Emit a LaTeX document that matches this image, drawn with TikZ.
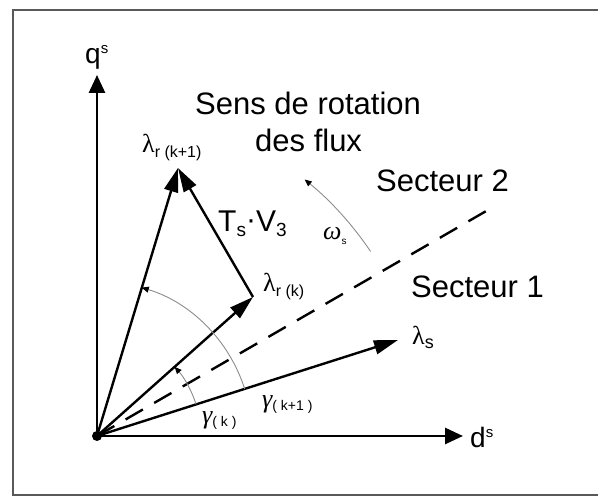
\documentclass[tikz,border=0pt]{standalone}
\usepackage{fontspec}
\setmainfont{Liberation Sans}
\newfontfamily\greekfont{Liberation Serif}
\usetikzlibrary{arrows.meta}
\begin{document}
\begin{tikzpicture}[x=1pt,y=1pt,
  frame/.style={draw=black!65, line width=2pt},
  axis/.style={line width=2.8pt,-{Triangle[length=18pt,width=16pt]}},
  vec/.style={line width=2.4pt,-{Triangle[length=24pt,width=14pt]}},
  dashline/.style={line width=2.4pt, dash pattern=on 20pt off 13pt},
  thinarc/.style={draw=black!45, line width=0.9pt,-{Triangle[length=7pt,width=6pt,black]}},
  big/.style={font=\fontsize{31}{37}\selectfont, inner sep=0pt, anchor=base west},
  axlbl/.style={font=\fontsize{28}{32}\selectfont, inner sep=0pt, anchor=base west},
  veclbl/.style={inner sep=0pt, anchor=base west}
]
\useasboundingbox (0,0) rectangle (598,497);
% frame
\draw[frame] (598,487) -- (13,487) -- (13,2) -- (598,2);

% points
\coordinate (O) at (97,61);
\coordinate (qtip) at (97,422);
\coordinate (dtip) at (463,61);
\coordinate (Lk1) at (178,329);
\coordinate (Lk) at (253,200);
\coordinate (Ls) at (398,157);
\coordinate (Dend) at (488,287);

% axes
\draw[axis] (O) -- (qtip);
\draw[axis] (O) -- (dtip);
% sector boundary
\draw[dashline] (O) -- (Dend);
% vectors
\draw[vec] (O) -- (Ls);
\draw[vec] (O) -- (Lk);
\draw[vec] (O) -- (Lk1);
\draw[vec] (Lk) -- (Lk1);
\fill (O) circle (5pt);

% angle arcs
\draw[thinarc] ([shift={(17.7:155)}]O) arc[start angle=17.7, end angle=73.2, radius=155];
\draw[thinarc] ([shift={(17.7:104)}]O) arc[start angle=17.7, end angle=41.7, radius=104];
\draw[thinarc] ([shift={(34:330)}]O) arc[start angle=34, end angle=51, radius=330];

% labels
\node[axlbl] (qlbl) at (85,433) {q\raisebox{10pt}{\fontsize{15}{15}\selectfont s}};
\node[axlbl] (dlbl) at (470,49) {d\raisebox{10pt}{\fontsize{15}{15}\selectfont s}};
\node[big] (sens1) at (195,382) {Sens de rotation};
\node[big] (sens2) at (255,345) {des flux};
\node[big] (sect2) at (376,305) {Secteur 2};
\node[big] (sect1) at (411,199) {Secteur 1};
\node[veclbl, font=\fontsize{30}{34}\selectfont] (tsv) at (218,265)
  {T\raisebox{-5pt}{\fontsize{19}{19}\selectfont s}\raisebox{2pt}{·}V\raisebox{-5pt}{\fontsize{19}{19}\selectfont 3}};
\node[veclbl] (lk1lbl) at (142,344)
  {{\greekfont\fontsize{26}{26}\selectfont λ}\raisebox{-5pt}{\fontsize{16}{16}\selectfont r (k+1)}};
\node[veclbl] (lklbl) at (263,205)
  {{\greekfont\fontsize{26}{26}\selectfont λ}\raisebox{-5pt}{\fontsize{16}{16}\selectfont r (k)}};
\node[veclbl] (lslbl) at (412,152)
  {{\greekfont\fontsize{26}{26}\selectfont λ}\raisebox{-4pt}{\fontsize{18}{18}\selectfont s}};
\node[veclbl] (gklbl) at (202,73)
  {{\greekfont\itshape\fontsize{26}{26}\selectfont γ}\raisebox{-3pt}{\fontsize{14}{14}\selectfont ( k )}};
\node[veclbl] (gk1lbl) at (262,89)
  {{\greekfont\itshape\fontsize{26}{26}\selectfont γ}\raisebox{-3pt}{\fontsize{14}{14}\selectfont ( k+1 )}};
\node[veclbl] (wlbl) at (323,257)
  {{\greekfont\itshape\fontsize{26}{26}\selectfont ω}\raisebox{-5pt}{\fontsize{10}{10}\selectfont s}};
\end{tikzpicture}
\end{document}
